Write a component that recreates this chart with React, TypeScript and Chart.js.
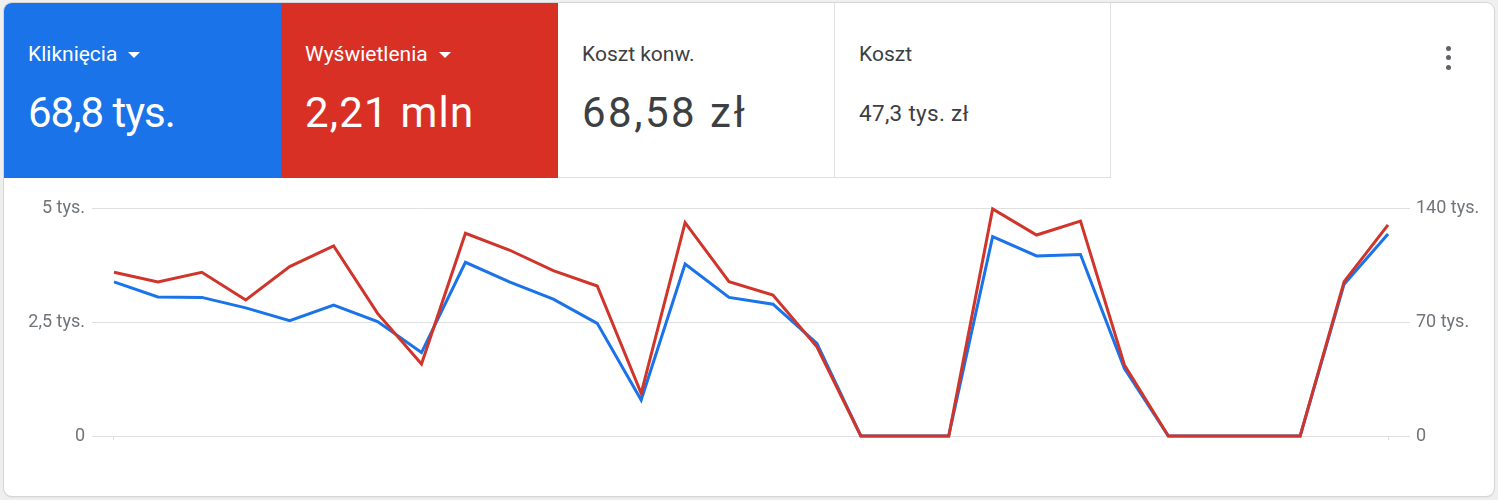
import React, { useEffect, useRef } from 'react';
import { Chart, registerables } from 'chart.js';

Chart.register(...registerables);

// ---- data ----
const days = ['1', '2', '3', '4', '5', '6', '7', '8', '9', '10', '11', '12', '13', '14', '15', '16', '17', '18', '19', '20', '21', '22', '23', '24', '25', '26', '27', '28', '29', '30'];
const clicks = [3380, 3050, 3040, 2810, 2530, 2870, 2510, 1830, 3810, 3380, 3000, 2470, 790, 3770, 3040, 2890, 2030, 0, 0, 0, 4370, 3950, 3980, 1480, 0, 0, 0, 0, 3330, 4430];
const impressions = [100500, 94600, 100500, 83500, 104000, 116700, 75300, 44200, 124500, 114200, 101500, 92100, 26200, 131000, 94800, 86600, 54800, 0, 0, 0, 139400, 123400, 132000, 43600, 0, 0, 0, 0, 94800, 129600];

const leftTickValues = [0, 2500, 5000];
const leftTickLabels = ['0', '2,5 tys.', '5 tys.'];
const rightTickValues = [0, 70000, 140000];
const rightTickLabels = ['0', '70 tys.', '140 tys.'];

const metricTitles = ['Kliknięcia', 'Wyświetlenia', 'Koszt konw.', 'Koszt'];
const metricValues = ['68,8 tys.', '2,21 mln', '68,58 zł', '47,3 tys. zł'];

const BLUE = '#1a73e8';
const RED = '#d93025';
const LINE_RED = '#d0352b';
const TEXT = '#3c4043';
const FONT = 'Roboto, "Noto Sans", sans-serif';

function Caret() {
  return (
    <span
      style={{
        display: 'inline-block',
        width: 0,
        height: 0,
        borderLeft: '6px solid transparent',
        borderRight: '6px solid transparent',
        borderTop: '6px solid #ffffff',
        marginLeft: 11,
        verticalAlign: 'middle',
      }}
    />
  );
}

function LineChart() {
  const ref = useRef<HTMLCanvasElement | null>(null);
  useEffect(() => {
    if (!ref.current) return;
    const chart = new Chart(ref.current, {
      type: 'line',
      data: {
        labels: days,
        datasets: [
          {
            label: metricTitles[1],
            data: impressions,
            yAxisID: 'y1',
            borderColor: LINE_RED,
            backgroundColor: LINE_RED,
            borderWidth: 3,
            pointRadius: 0,
            tension: 0,
            clip: false as any,
            order: 0,
          },
          {
            label: metricTitles[0],
            data: clicks,
            yAxisID: 'y',
            borderColor: BLUE,
            backgroundColor: BLUE,
            borderWidth: 3,
            pointRadius: 0,
            tension: 0,
            clip: false as any,
            order: 1,
          },
        ],
      },
      options: {
        animation: false,
        responsive: true,
        maintainAspectRatio: false,
        layout: { padding: { top: 18, bottom: 30, left: 0, right: 0 } },
        plugins: { legend: { display: false }, tooltip: { enabled: false } },
        events: [],
        scales: {
          x: {
            type: 'category',
            offset: true,
            border: { display: false },
            grid: {
              offset: false,
              drawOnChartArea: false,
              drawTicks: true,
              tickLength: 4,
              color: (ctx: any) =>
                ctx.index === 0 || ctx.index === days.length - 1 ? '#dadce0' : 'rgba(0,0,0,0)',
            },
            ticks: { display: false },
          },
          y: {
            position: 'left',
            min: leftTickValues[0],
            max: leftTickValues[leftTickValues.length - 1],
            afterBuildTicks: (s: any) => {
              s.ticks = leftTickValues.map((v) => ({ value: v }));
            },
            afterFit: (s: any) => {
              s.width = 92;
            },
            border: { display: false },
            grid: { color: '#e0e0e0', lineWidth: 1, drawTicks: false },
            ticks: {
              padding: 7,
              color: '#70757a',
              font: { family: FONT, size: 18 },
              callback: (_v: any, i: number) => leftTickLabels[i],
            },
          },
          y1: {
            position: 'right',
            min: rightTickValues[0],
            max: rightTickValues[rightTickValues.length - 1],
            afterBuildTicks: (s: any) => {
              s.ticks = rightTickValues.map((v) => ({ value: v }));
            },
            afterFit: (s: any) => {
              s.width = 88;
            },
            border: { display: false },
            grid: { drawOnChartArea: false, drawTicks: false },
            ticks: {
              padding: 6,
              color: '#70757a',
              font: { family: FONT, size: 18 },
              callback: (_v: any, i: number) => rightTickLabels[i],
            },
          },
        },
      },
    } as any);
    return () => chart.destroy();
  }, []);
  return (
    <div style={{ position: 'absolute', left: 0, top: 190, width: 1498, height: 280 }}>
      <canvas ref={ref} />
    </div>
  );
}

function Tile(props: {
  left: number;
  width: number;
  bg: string;
  color: string;
  title: string;
  value: string;
  caret?: boolean;
  small?: boolean;
  bordered?: boolean;
  spacing?: number;
}) {
  const { left, width, bg, color, title, value, caret, small, bordered, spacing } = props;
  return (
    <div
      style={{
        position: 'absolute',
        left,
        top: 0,
        width,
        height: 175,
        background: bg,
        boxSizing: 'border-box',
        borderRight: bordered ? '1px solid #e0e0e0' : undefined,
        borderBottom: bordered ? '1px solid #e0e0e0' : undefined,
        color,
      }}
    >
      <div
        style={{
          position: 'absolute',
          left: 24,
          top: 41,
          fontSize: 21,
          lineHeight: 1,
          whiteSpace: 'nowrap',
        }}
      >
        {title}
        {caret ? <Caret /> : null}
      </div>
      <div
        style={{
          position: 'absolute',
          left: 24,
          top: small ? 99 : 89,
          fontSize: small ? 22.5 : 42,
          lineHeight: 1,
          letterSpacing: spacing ?? 0,
          whiteSpace: 'nowrap',
        }}
      >
        {value}
      </div>
    </div>
  );
}

export default function App() {
  return (
    <div
      style={{
        position: 'fixed',
        left: 0,
        top: 0,
        width: 1498,
        height: 500,
        background: '#efefef',
        fontFamily: FONT,
        overflow: 'hidden',
      }}
    >
      <div
        style={{
          position: 'absolute',
          left: 4,
          top: 3,
          width: 1490,
          height: 493,
          background: '#ffffff',
          borderRadius: 8,
          boxShadow: '0 0 0 1px #d6d6d6, 0 1px 2px rgba(60,64,67,0.2)',
          overflow: 'hidden',
        }}
      >
        <Tile left={0} width={277} bg={BLUE} color="#ffffff" title={metricTitles[0]} value={metricValues[0]} caret spacing={-1} />
        <Tile left={277} width={277} bg={RED} color="#ffffff" title={metricTitles[1]} value={metricValues[1]} caret spacing={1.2} />
        <Tile left={554} width={277} bg="#ffffff" color={TEXT} title={metricTitles[2]} value={metricValues[2]} bordered spacing={2.5} />
        <Tile left={831} width={276} bg="#ffffff" color={TEXT} title={metricTitles[3]} value={metricValues[3]} small bordered spacing={0.3} />
        {[45, 54.5, 64].map((y) => (
          <div
            key={y}
            style={{
              position: 'absolute',
              left: 1441.5,
              top: y - 2.5,
              width: 5,
              height: 5,
              borderRadius: '50%',
              background: '#5f6368',
            }}
          />
        ))}
      </div>
      <LineChart />
    </div>
  );
}
